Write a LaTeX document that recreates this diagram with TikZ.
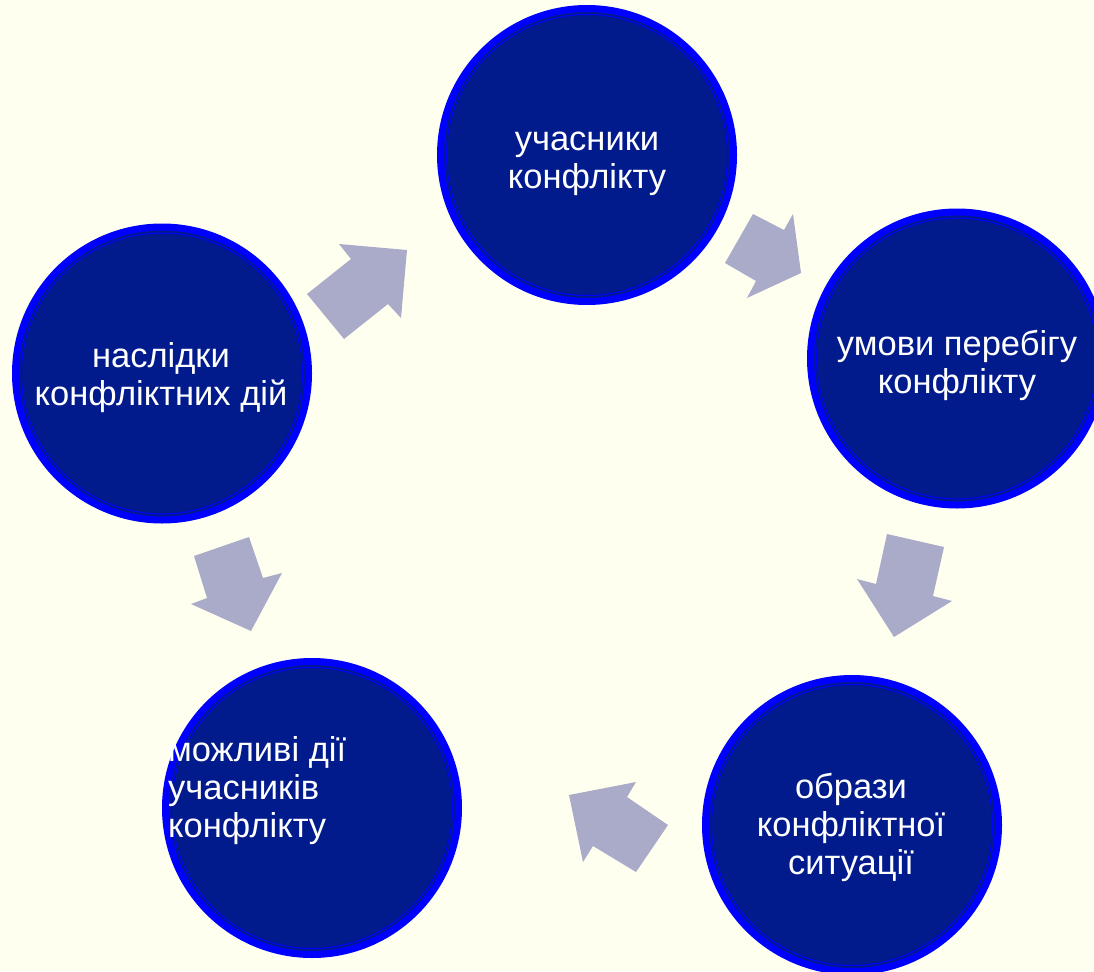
\documentclass[tikz,border=0pt]{standalone}
\usepackage{fontspec}
\setmainfont{Liberation Sans}
\definecolor{bgcream}{RGB}{255,255,240}
\definecolor{discnavy}{RGB}{2,27,140}
\definecolor{ringblue}{RGB}{0,0,255}
\definecolor{arrowgrey}{RGB}{169,171,200}
\tikzset{
  disc/.style={circle, fill=discnavy, draw=ringblue, line width=7pt, minimum size=293pt, inner sep=0pt},
  innerring/.style={draw=ringblue, line width=1pt},
  disctext/.style={text=white, font=\fontsize{34.5}{38}\selectfont, inner sep=0pt, align=center},
  blockarrow/.style={fill=arrowgrey, draw=none},
}
\begin{document}
\begin{tikzpicture}[x=1pt,y=-1pt]
\useasboundingbox (0,0) rectangle (1094,971);
\fill[bgcream] (0,0) rectangle (1094,971);
\clip (0,0) rectangle (1094,971);

% discs
\node[disc] (ctop) at (587,155) {};
\node[disc] (cright) at (957,358.5) {};
\node[disc] (cleft) at (162,373.5) {};
\node[disc] (cbr) at (852,825) {};
\node[disc] (cbl) at (312,808) {};
\foreach \n in {ctop,cright,cleft,cbr,cbl}
  \draw[innerring] (\n.center) circle[radius=140.5pt];

% block arrows
\fill[blockarrow] (307,294) -- (351,259) -- (339,244) -- (407,250) -- (401,318) -- (388,304) -- (344,339) -- cycle;
\fill[blockarrow] (753,214) -- (784,230) -- (793,214) -- (801,273) -- (747,298) -- (756,281) -- (725,263) -- cycle;
\fill[blockarrow] (887,534) -- (944,547) -- (933,596) -- (952,601) -- (894,637) -- (857,579) -- (876,584) -- cycle;
\fill[blockarrow] (668,825) -- (627,797) -- (636,782) -- (569,795) -- (583,862) -- (593,846) -- (636,872) -- cycle;
\fill[blockarrow] (194,556) -- (249,537) -- (263,578) -- (282,573) -- (251,631) -- (191,604) -- (207,598) -- cycle;

% texts
\node[disctext] (ttop) at (587,164) {учасники\\конфлікту};
\node[disctext] (tright) at (957,365) {умови перебігу\\конфлікту};
\node[disctext] (tleft) at (161,377.5) {наслідки\\конфліктних дій};
\node[disctext] (tbr) at (851,827.5) {образи\\конфліктної\\ситуації};
\node[disctext, align=left, anchor=west] (tbl) at (168,791) {можливі дії\\учасників\\конфлікту};
\end{tikzpicture}
\end{document}
